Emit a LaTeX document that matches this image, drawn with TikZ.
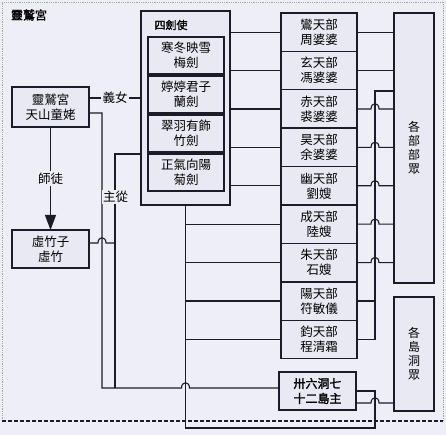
\documentclass[tikz,border=0pt]{standalone}
\usepackage{fontspec}
\usetikzlibrary{arrows.meta,positioning,calc}
\newfontfamily\cjk{Noto Sans CJK TC}
\newfontfamily\cjkb[FakeBold=1.6]{Noto Sans CJK TC}
\definecolor{paperbg}{RGB}{238,238,246}
\definecolor{boxfill}{RGB}{233,233,244}
\definecolor{inkline}{RGB}{28,28,40}

\tikzset{
  box/.style={draw=inkline, line width=1.4pt, fill=boxfill, minimum width=76pt,
    minimum height=38.4pt, inner sep=0pt, outer sep=0pt, align=center,
    font=\cjk\fontsize{12.5}{15}\selectfont},
  wire/.style={draw=inkline, line width=1.1pt},
  lbl/.style={fill=paperbg, inner sep=1.5pt, font=\cjk\fontsize{12.5}{15}\selectfont},
  hop/.style={to path={-- ($(#1 |- \tikztostart)+(-4,0)$) .. controls +(0,-7) and +(0,-7) .. ++(8,0) -- (\tikztotarget)}},
}

\begin{document}
\begin{tikzpicture}[x=1pt, y=-1pt]
  \useasboundingbox (0,0) rectangle (446,435);
  \fill[paperbg] (0,0) rectangle (446,435);
  \draw[densely dotted, gray!70, line width=0.8pt] (2,421) -- (2,2) -- (443,2) -- (443,421);
  \draw[inkline, line width=1.6pt, dash pattern=on 4pt off 2pt] (2,421) -- (443,421);
  \node[font=\cjkb\fontsize{12}{14}\selectfont] (ttl) at (29,15) {靈鷲宮};

  % left column
  \node[box, line width=1.8pt, minimum width=77pt, minimum height=40pt] (tsl) at (50.5,107) {靈鷲宮\\天山童姥};
  \node[box, line width=1.8pt, minimum width=77pt, minimum height=38pt] (xz) at (50.5,249) {虛竹子\\虛竹};

  % four swords
  \node[box, minimum width=89pt, minimum height=194pt] (sjs) at (185.5,108) {};
  \node[font=\cjkb\fontsize{11}{13}\selectfont] (sjt) at (171,25) {四劍使};
  \node[box, minimum height=37pt] (mei) at (186,55.5) {寒冬映雪\\梅劍};
  \node[box, minimum height=37pt] (lan) at (186,94.5) {婷婷君子\\蘭劍};
  \node[box, minimum height=37pt] (zhu) at (186,133.5) {翠羽有飾\\竹劍};
  \node[box, minimum height=37pt] (ju) at (186,172.5) {正氣向陽\\菊劍};

  % nine sections
  \node[box] (b1) at (319,32.2) {鸞天部\\周婆婆};
  \node[box, below=0pt of b1] (b2) {玄天部\\馮婆婆};
  \node[box, below=0pt of b2] (b3) {赤天部\\裘婆婆};
  \node[box, below=0pt of b3] (b4) {昊天部\\余婆婆};
  \node[box, below=0pt of b4] (b5) {幽天部\\劉嫂};
  \node[box, below=0pt of b5] (b6) {成天部\\陸嫂};
  \node[box, below=0pt of b6] (b7) {朱天部\\石嫂};
  \node[box, below=0pt of b7] (b8) {陽天部\\符敏儀};
  \node[box, below=0pt of b8] (b9) {鈞天部\\程清霜};
  \node[box, minimum width=77pt, minimum height=38pt, font=\cjkb\fontsize{12}{15}\selectfont] (xdq) at (317.5,391) {卅六洞七\\十二島主};

  % followers
  \node[box, minimum width=40pt, minimum height=270pt, font=\cjk\fontsize{12}{14}\selectfont] (gbz) at (414,148) {各\\部\\部\\眾};
  \node[box, minimum width=40pt, minimum height=114pt, font=\cjk\fontsize{12}{14}\selectfont] (gdz) at (414,354) {各\\島\\洞\\眾};

  \coordinate (bus) at (375,91);
  \coordinate (bot) at (185,428);
  \coordinate (lx1) at (102,388);
  \coordinate (lx2) at (115,388);
  \coordinate (tslu) at ($(tsl.east)+(0,-9)$);
  \coordinate (tslr) at ($(tsl.east)+(0,6)$);
  \coordinate (xzr) at ($(xz.east)+(0,-6)$);
  \coordinate (xdqr) at ($(xdq.east)+(0,12)$);

  % left connectors
  \draw[wire] (tslu) -- (tslu -| sjs.west) node[lbl, midway] (yn) {義女};
  \draw[wire, -{Triangle[length=15pt,width=11pt]}] (tsl) -- (xz) node[lbl, midway] (st) {師徒};
  \draw[wire] (tslr) -| (lx1) to[hop=sjs.south] (xdq.west |- lx1);
  \draw[wire] (sjs.west |- ju.north) -| (lx2);
  \draw[wire] (xzr) to[hop=lx1] (lx2 |- xzr);
  \node[lbl] (zc) at (115.5,197) {主從};

  % four swords to sections
  \draw[wire] (sjs.east |- b1) -- (b1.west);
  \draw[wire] (sjs.east |- b2) -- (b2.west);
  \draw[wire] (sjs.east |- b3) -- (b3.west);
  \draw[wire] (sjs.east |- b4) -- (b4.west);
  \draw[wire] (sjs.east |- b5) -- (b5.west);
  \draw[wire] (sjs.south) -- (sjs.south |- bot) -| (xdq.east -| bus) -- (xdq.east);
  \draw[wire] (sjs.south |- b6) -- (b6.west);
  \draw[wire] (sjs.south |- b7) -- (b7.west);
  \draw[wire] (sjs.south |- b8) -- (b8.west);
  \draw[wire] (sjs.south |- b9) -- (b9.west);

  % sections to followers
  \draw[wire] (b1.east) -- (gbz.west |- b1.east);
  \draw[wire] (b2.east) -- (gbz.west |- b2.east);
  \draw[wire] (b3.east) to[hop=bus] (gbz.west |- b3.east);
  \draw[wire] (b4.east) to[hop=bus] (gbz.west |- b4.east);
  \draw[wire] (b5.east) to[hop=bus] (gbz.west |- b5.east);
  \draw[wire] (b6.east) to[hop=bus] (gbz.west |- b6.east);
  \draw[wire] (b7.east) to[hop=bus] (gbz.west |- b7.east);
  \draw[wire] (b8.east) -- (bus |- b8.east);
  \draw[wire] (b9.east) -| (bus) -- (gbz.west |- bus);
  \draw[wire] (xdqr) to[hop=bus] (gdz.west |- xdqr);
\end{tikzpicture}
\end{document}
